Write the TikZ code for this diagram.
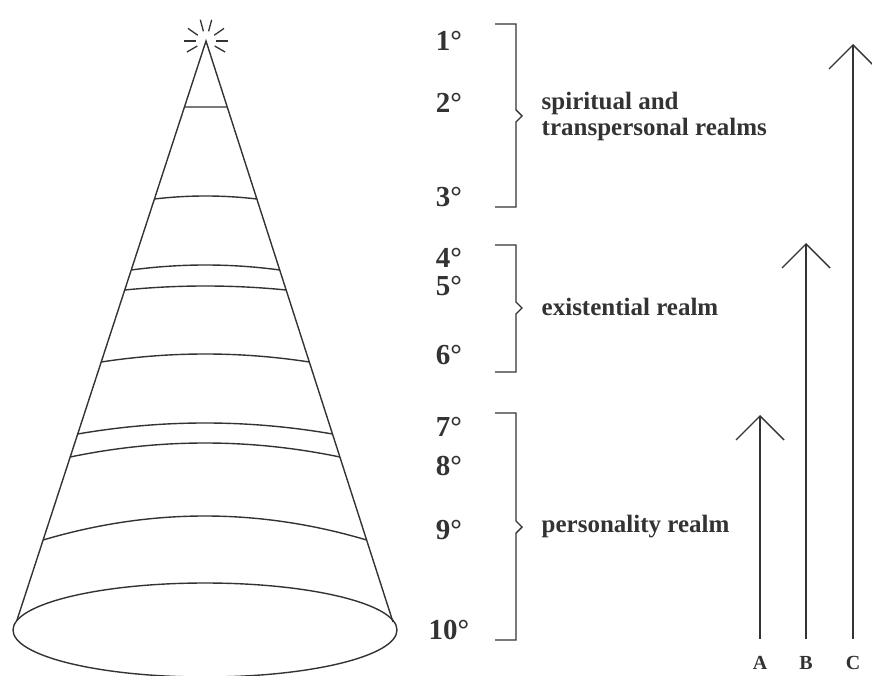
\documentclass[tikz,border=0pt]{standalone}
\usepackage{fontspec}
\setmainfont{Liberation Serif}
\usetikzlibrary{arrows.meta,calc}

\begin{document}
\begin{tikzpicture}[x=1pt,y=-1pt,line width=1.4pt,color=black!80,
    deg/.style={font=\fontsize{29}{30}\selectfont\bfseries,inner sep=0pt},
    realm/.style={font=\fontsize{25}{26}\selectfont\bfseries,anchor=west,align=left,inner sep=0pt},
    letter/.style={font=\fontsize{20}{21}\selectfont\bfseries,inner sep=0pt},
    growth/.style={-{Straight Barb[length=24pt,width=48pt]},shorten <=17pt}]
    \useasboundingbox (0,0) rectangle (872,676);
    \clip (0,0) rectangle (872,676);
    % cone
    \coordinate (apex) at (206,41);
    \coordinate (bl) at (17,620);
    \coordinate (br) at (393,622);
    \draw (bl) -- (apex) -- (br);
    \draw (205,630) ellipse [x radius=192pt,y radius=47pt];
    \foreach \a in {-30,0,35,75,105,145,180,210}
      \draw[line width=1.3pt] ($(apex)+(\a:10pt)$) -- ($(apex)+(\a:22pt)$);
    \foreach \y/\h in {107/0,199/3,270/5,290/4,362/8,434/11,457/14,540/24} {
      \path ($(apex)!{(\y-41)/579}!(bl)$) coordinate (L) ($(apex)!{(\y-41)/581}!(br)$) coordinate (R);
      \draw (L) .. controls ($(L)!1/3!(R)+(0,{-4*\h/3})$) and ($(L)!2/3!(R)+(0,{-4*\h/3})$) .. (R);
    }
    % levels and realms
    \foreach \n/\y in {1/41,2/103,3/197,4/258,5/286,6/355,7/427,8/466,9/530,10/630}
      \node[deg] (d\n) at (449,\y) {\n°};
    \draw (495,24) -- (516,24) -- (516,110) -- (522,116) -- (516,122) -- (516,207) -- (495,207);
    \draw (495,245) -- (516,245) -- (516,302) -- (522,308) -- (516,314) -- (516,372) -- (495,372);
    \draw (495,413) -- (516,413) -- (516,521) -- (522,527) -- (516,533) -- (516,640) -- (495,640);
    \node[realm] (spirit) at (541,116) {spiritual and\\transpersonal realms};
    \node[realm] (exist) at (541,307) {existential realm};
    \node[realm] (person) at (541,527) {personality realm};
    % growth lines
    \node[letter] (lA) at (760,663) {A};
    \node[letter] (lB) at (806,663) {B};
    \node[letter] (lC) at (853,663) {C};
    \coordinate (tA) at (760,415);
    \coordinate (tB) at (806,243);
    \coordinate (tC) at (853,44);
    \draw[growth] (lA) -- (tA);
    \draw[growth] (lB) -- (tB);
    \draw[growth] (lC) -- (tC);
  \end{tikzpicture}
\end{document}
